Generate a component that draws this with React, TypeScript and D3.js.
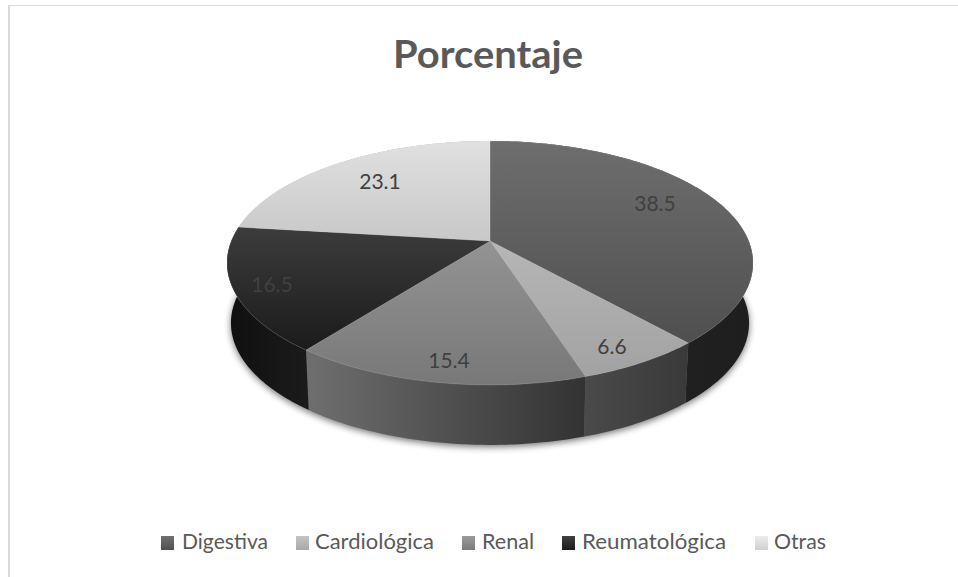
import React from "react";
import * as d3 from "d3";

const categories = ["Digestiva", "Cardiológica", "Renal", "Reumatológica", "Otras"];
const values = [38.5, 6.6, 15.4, 16.5, 23.1];
const valueLabels = ["38.5", "6.6", "15.4", "16.5", "23.1"];

const topColors = [
  ["#6e6e6e", "#4f4f4f"],
  ["#b6b6b6", "#a2a2a2"],
  ["#939393", "#787878"],
  ["#3c3c3c", "#1b1b1b"],
  ["#e0e0e0", "#c8c8c8"],
];
const sideColors = [
  ["#262626", "#1e1e1e"],
  ["#4a4a4a", "#3a3a3a"],
  ["#6e6e6e", "#333333"],
  ["#101010", "#1b1b1b"],
  ["#9a9a9a", "#9a9a9a"],
];
const legendColors = [
  ["#707070", "#505050"],
  ["#c4c4c4", "#a8a8a8"],
  ["#9a9a9a", "#7c7c7c"],
  ["#404040", "#1c1c1c"],
  ["#ececec", "#d0d0d0"],
];
const labelXY = [[655, 204], [612, 347], [449, 361], [272, 285], [380, 182]];
const legendSwatchX = [161, 296, 462, 562, 755];
const legendTextX = [182, 315, 482, 582, 774];
const legendTextW = [86, 119, 52, 144, 52];

const W = 958, H = 577;
const CX = 490, PIVOT_Y = 241, RX = 258.7, B = 118, K = 0.18;
const DEPTH = 60, SHRINK = 0.985;
const FONT = "Lato, Carlito, Calibri, sans-serif";

const project = (a: number): [number, number] => {
  const u = Math.sin(a), v = -Math.cos(a), d = 1 - K * v;
  return [CX + (RX * u) / d, PIVOT_Y + (B * v) / d];
};
const lower = ([x, y]: [number, number]): [number, number] => [CX + (x - CX) * SHRINK, y + DEPTH];
const line = d3.line();
const samples = (a0: number, a1: number) => {
  const n = Math.max(4, Math.ceil((a1 - a0) / 0.02));
  return d3.range(n + 1).map((i) => project(a0 + ((a1 - a0) * i) / n));
};

export default function App() {
  const arcs = d3.pie<number>().sort(null)(values);
  const full = samples(0, 2 * Math.PI);
  return (
    <svg width={W} height={H} viewBox={`0 0 ${W} ${H}`} style={{ position: "absolute", left: 0, top: 0, background: "#fff" }}>
      <defs>
        <filter id="soft" x="-10%" y="-10%" width="120%" height="125%">
          <feGaussianBlur stdDeviation="3.5" />
        </filter>
        {arcs.map((a, i) => {
          const pts = samples(a.startAngle, a.endAngle).map(lower);
          const [x0, x1] = d3.extent(pts, (p) => p[0]) as [number, number];
          return (
            <React.Fragment key={i}>
              <linearGradient id={`top${i}`} x1="0" y1="0" x2="0" y2="1">
                <stop offset="0" stopColor={topColors[i][0]} />
                <stop offset="1" stopColor={topColors[i][1]} />
              </linearGradient>
              <linearGradient id={`side${i}`} gradientUnits="userSpaceOnUse" x1={x0} y1="0" x2={x1} y2="0">
                <stop offset="0" stopColor={sideColors[i][0]} />
                <stop offset="1" stopColor={sideColors[i][1]} />
              </linearGradient>
              <linearGradient id={`leg${i}`} x1="0" y1="0" x2="0" y2="1">
                <stop offset="0" stopColor={legendColors[i][0]} />
                <stop offset="1" stopColor={legendColors[i][1]} />
              </linearGradient>
            </React.Fragment>
          );
        })}
      </defs>

      <rect x="8" y="5" width={W - 8} height="1" fill="#d9d9d9" />
      <rect x="8" y="5" width="2" height={H - 5} fill="#d9d9d9" />
      <text x="488" y="68" textAnchor="middle" textLength="190" lengthAdjust="spacingAndGlyphs" fontFamily={FONT} fontWeight="700" fontSize="38" fill="#595959">Porcentaje</text>

      <path d={line(full.map(lower).map(([x, y]) => [x, y + 2] as [number, number])) + "Z"} fill="#000" opacity="0.55" filter="url(#soft)" />

      {arcs.map((a, i) => {
        const top = samples(a.startAngle, a.endAngle);
        const pts = [...top, ...top.map(lower).reverse()];
        return <path key={i} d={line(pts) + "Z"} fill={`url(#side${i})`} />;
      })}
      {arcs.map((a, i) => {
        const pts: [number, number][] = [[CX, PIVOT_Y], ...samples(a.startAngle, a.endAngle)];
        return <path key={i} d={line(pts) + "Z"} fill={`url(#top${i})`} stroke="#ffffff" strokeOpacity="0.18" strokeWidth="0.8" />;
      })}

      {valueLabels.map((t, i) => (
        <text key={i} x={labelXY[i][0]} y={labelXY[i][1]} dy="0.35em" textAnchor="middle" fontFamily={FONT} fontSize="21" fill="#404040">{t}</text>
      ))}

      {categories.map((c, i) => (
        <g key={c}>
          <rect x={legendSwatchX[i]} y="536" width="13" height="14" fill={`url(#leg${i})`} />
          <text x={legendTextX[i]} y="549" textLength={legendTextW[i]} lengthAdjust="spacingAndGlyphs" fontFamily={FONT} fontSize="21" fill="#595959">{c}</text>
        </g>
      ))}
    </svg>
  );
}
